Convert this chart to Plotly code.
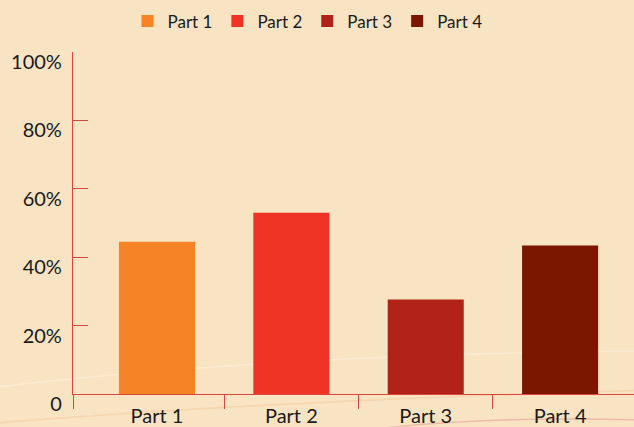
import plotly.graph_objects as go

categories = ["Part 1", "Part 2", "Part 3", "Part 4"]
values = [44.5, 53.0, 27.6, 43.4]
colors = ["#F68427", "#EE3325", "#B22219", "#7B1700"]
y_tickvals = [0, 20, 40, 60, 80, 100]
y_ticktext = ["0", "20%", "40%", "60%", "80%", "100%"]

BG = "#F8E3C3"
AXIS = "#D9473C"
FONT = "Lato, 'Open Sans', sans-serif"

positions = list(range(len(categories)))

fig = go.Figure()
for i, (cat, val, col) in enumerate(zip(categories, values, colors)):
    fig.add_trace(go.Bar(
        x=[positions[i]], y=[val], name=cat,
        marker=dict(color=col, line=dict(width=0)),
        width=0.566,
        hovertemplate="%{y}%<extra>" + cat + "</extra>",
    ))

# faint decorative background curves
shapes = [
    dict(type="path", xref="paper", yref="paper",
         path="M -0.14,0.02 Q 0.4,0.12 1.0,0.125",
         line=dict(color="rgba(255,244,226,0.55)", width=1.5), layer="below"),
    dict(type="path", xref="paper", yref="paper",
         path="M -0.14,-0.085 Q 0.35,-0.02 1.0,0.01",
         line=dict(color="rgba(246,200,150,0.5)", width=1.5), layer="below"),
    dict(type="path", xref="paper", yref="paper",
         path="M 0.55,-0.1 Q 0.75,-0.065 1.0,-0.075",
         line=dict(color="rgba(225,140,140,0.45)", width=1.5), layer="below"),
]

fig.update_layout(
    width=634, height=427,
    margin=dict(l=73, r=0, t=52, b=33),
    paper_bgcolor=BG, plot_bgcolor=BG,
    barmode="overlay",
    showlegend=True,
    legend=dict(orientation="h", x=0.485, xanchor="center", xref="container",
                y=0.95, yanchor="middle", yref="container",
                font=dict(family=FONT, size=17, color="#1a1a1a"),
                itemwidth=30, tracegroupgap=0, bgcolor="rgba(0,0,0,0)"),
    font=dict(family=FONT, color="#1a1a1a"),
    shapes=shapes,
    xaxis=dict(
        range=[-0.625, 3.55], showgrid=False, zeroline=False,
        tickvals=positions, ticktext=categories,
        ticks="outside", ticklen=4, tickcolor="rgba(0,0,0,0)",
        tickfont=dict(family=FONT, size=20, color="#1a1a1a"),
        showline=True, linecolor=AXIS, linewidth=1.2,
        minor=dict(tickvals=[-0.625, 0.5, 1.5, 2.5], ticks="outside",
                   ticklen=14, tickcolor=AXIS, tickwidth=1.2, showgrid=False),
        fixedrange=True,
    ),
    yaxis=dict(
        range=[0, 100], showgrid=False, zeroline=False,
        tickvals=y_tickvals, ticktext=y_ticktext,
        ticks="inside", ticklen=15, tickcolor=AXIS, tickwidth=1.2,
        showline=True, linecolor=AXIS, linewidth=1.2,
        tickfont=dict(family=FONT, size=20, color="#1a1a1a"),
        ticklabelstandoff=6, ticklabelshift=10,
        fixedrange=True,
    ),
)

fig.write_html("out.html")
